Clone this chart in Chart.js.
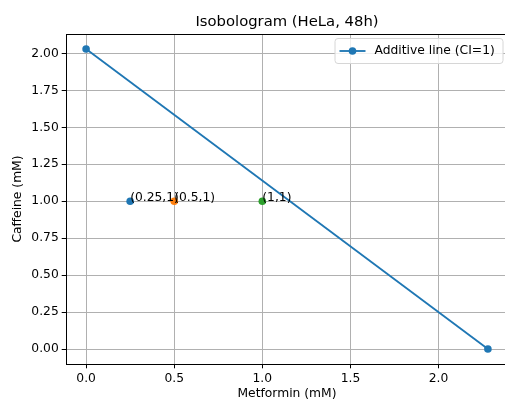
<!DOCTYPE html>
<html>
<head>
<meta charset="utf-8">
<script src="https://cdn.jsdelivr.net/npm/chart.js@4"></script>
<style>
  html, body { margin: 0; padding: 0; overflow: hidden; background: #fff; }
  #wrap { width: 512px; height: 401px; }
</style>
</head>
<body>
<div id="wrap"><canvas id="grafico"></canvas></div>
<script>
// Linha aditiva (CI=1)
const linhaX = [0, 2.28];
const linhaY = [2.03, 0];

// Combinações testadas
const pontosX = [0.25, 0.5, 1];
const pontosY = [1, 1, 1];
const rotulosPontos = ['(0.25,1)', '(0.5,1)', '(1,1)'];
const coresPontos = ['#1f77b4', '#ff7f0e', '#2ca02c'];

const titulo = 'Isobologram (HeLa, 48h)';
const FONTE = 'DejaVu Sans';
const azul = '#1f77b4';

// Título centrado na área do gráfico, moldura superior/direita, rótulos e legenda
const pluginExtras = {
    id: 'extras',
    afterDatasetsDraw(chart) {
        const ctx = chart.ctx;
        const a = chart.chartArea;
        const sx = chart.scales.x, sy = chart.scales.y;

        ctx.save();
        ctx.strokeStyle = '#000';
        ctx.lineWidth = 1;
        ctx.beginPath();
        ctx.moveTo(a.left, a.top + 0.5);
        ctx.lineTo(a.right, a.top + 0.5);
        ctx.moveTo(a.right - 0.5, a.top);
        ctx.lineTo(a.right - 0.5, a.bottom);
        ctx.stroke();

        // título
        ctx.fillStyle = '#000';
        ctx.font = '14.8px "' + FONTE + '"';
        ctx.textAlign = 'center';
        ctx.textBaseline = 'alphabetic';
        ctx.fillText(titulo, (a.left + a.right) / 2, 25.5);

        // textos dos pontos
        ctx.font = '12.3px "' + FONTE + '"';
        ctx.textAlign = 'left';
        rotulosPontos.forEach((t, i) => {
            ctx.fillText(t, sx.getPixelForValue(pontosX[i]), sy.getPixelForValue(pontosY[i]));
        });

        // legenda
        const texto = chart.data.datasets[0].label;
        const w = 168, h = 25;
        const bx = a.right - 5.5 - w, by = a.top + 4;
        ctx.beginPath();
        ctx.roundRect(bx + 0.5, by + 0.5, w, h, 3);
        ctx.fillStyle = 'rgba(255,255,255,0.8)';
        ctx.fill();
        ctx.strokeStyle = '#d6d6d6';
        ctx.stroke();
        const cy = by + h / 2 + 0.5;
        ctx.strokeStyle = azul;
        ctx.lineWidth = 1.85;
        ctx.beginPath();
        ctx.moveTo(bx + 5, cy);
        ctx.lineTo(bx + 31, cy);
        ctx.stroke();
        ctx.fillStyle = azul;
        ctx.beginPath();
        ctx.arc(bx + 18, cy, 3.8, 0, Math.PI * 2);
        ctx.fill();
        ctx.fillStyle = '#000';
        ctx.textBaseline = 'middle';
        ctx.fillText(texto, bx + 40, cy);
        ctx.restore();
    }
};

const conjuntos = [{
    label: 'Additive line (CI=1)',
    data: linhaX.map((x, i) => ({ x: x, y: linhaY[i] })),
    showLine: true,
    borderColor: azul,
    backgroundColor: azul,
    borderWidth: 1.85,
    pointRadius: 3.8,
    pointBorderWidth: 0,
    pointHoverRadius: 3.8
}];
pontosX.forEach((x, i) => {
    conjuntos.push({
        label: rotulosPontos[i],
        data: [{ x: x, y: pontosY[i] }],
        showLine: false,
        backgroundColor: coresPontos[i],
        borderColor: coresPontos[i],
        pointRadius: 3.8,
        pointBorderWidth: 0
    });
});

const grafico = new Chart(document.getElementById('grafico').getContext('2d'), {
    type: 'scatter',
    data: { datasets: conjuntos },
    options: {
        responsive: true,
        maintainAspectRatio: false,
        animation: false,
        events: [],
        layout: { padding: { left: 0, right: 1, top: 34, bottom: 0 } },
        plugins: {
            legend: { display: false },
            tooltip: { enabled: false },
            title: { display: false }
        },
        scales: {
            x: {
                type: 'linear',
                min: -0.114,
                max: 2.394,
                afterFit: s => { s.height = 37; },
                ticks: {
                    stepSize: 0.5,
                    includeBounds: false,
                    color: '#000',
                    padding: 3,
                    maxRotation: 0,
                    font: { family: FONTE, size: 12.3 },
                    callback: v => v.toFixed(1)
                },
                grid: { color: '#b0b0b0', lineWidth: 1, tickColor: '#000', tickLength: 4.3 },
                border: { display: true, color: '#000', width: 1 },
                title: {
                    display: true,
                    text: 'Metformin (mM)',
                    color: '#000',
                    font: { family: FONTE, size: 12.3, lineHeight: 1.2 },
                    padding: { top: 0, bottom: 0 }
                }
            },
            y: {
                type: 'linear',
                min: -0.1015,
                max: 2.1315,
                afterFit: s => { s.width = 66; },
                ticks: {
                    stepSize: 0.25,
                    includeBounds: false,
                    color: '#000',
                    padding: 3,
                    font: { family: FONTE, size: 12.3 },
                    callback: v => v.toFixed(2)
                },
                grid: { color: '#b0b0b0', lineWidth: 1, tickColor: '#000', tickLength: 4.3 },
                border: { display: true, color: '#000', width: 1 },
                title: {
                    display: true,
                    text: 'Caffeine (mM)',
                    color: '#000',
                    font: { family: FONTE, size: 12.3, lineHeight: 1.2 },
                    padding: { top: 10.5, bottom: 0 }
                }
            }
        }
    },
    plugins: [pluginExtras]
});
</script>
</body>
</html>
